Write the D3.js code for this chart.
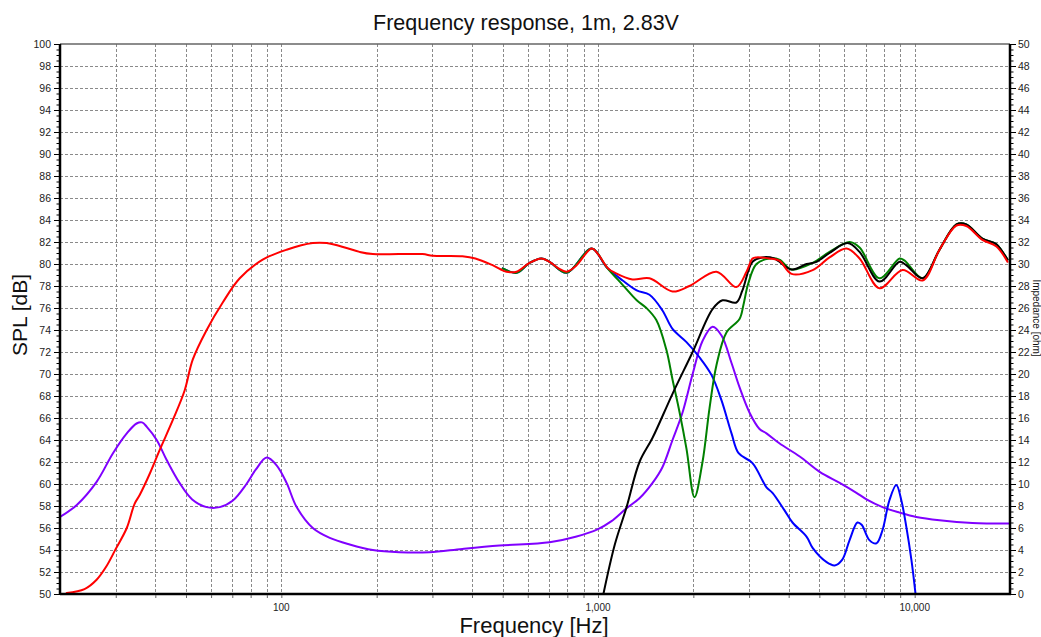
<!DOCTYPE html>
<html>
<head>
<meta charset="utf-8">
<script src="https://cdn.jsdelivr.net/npm/d3@7"></script>
<style>
  html, body { margin: 0; padding: 0; background: #fff; }
  svg { display: block; font-family: "Liberation Sans", Arial, sans-serif; }
</style>
</head>
<body>
<svg id="chart" width="1041" height="637"></svg>
<script>
// ---- data (frequency in Hz, value) ----
const splTicks = d3.range(50, 101, 2);
const ohmTicks = d3.range(0, 51, 2);
const freqLabels = [[100, "100"], [1000, "1,000"], [10000, "10,000"]];

// summed response (red)
const totalSpl = [[21,50.1],[23.9,50.45],[26.1,51.3],[28,52.5],[30,54.1],[32.5,56.0],[34.4,58.2],[35.7,59.0],[38.5,61.0],[41.3,63.1],[45.4,65.8],[49.5,68.5],[52.5,71.3],[58.1,74.0],[65.3,76.5],[73.9,78.7],[87.3,80.4],[103.9,81.3],[125.7,81.9],[139,81.9],[160.7,81.45],[176.6,81.1],[194.5,80.9],[279,80.9],[300.6,80.75],[373,80.7],[410,80.5],[464.5,79.9],[514,79.3],[553,79.3],[608,80.1],[663,80.5],[703,80.2],[750,79.6],[796,79.3],[850,79.8],[955,81.4],[1000,80.9],[1076,79.6],[1132,79.2],[1285,78.6],[1454,78.7],[1719,77.5],[1944,78.0],[2366,79.3],[2735,77.9],[2944,79.3],[3075,80.5],[3165,80.6],[3478,80.5],[3738,80.3],[4085,79.1],[4761,79.45],[5384,80.6],[6093,81.4],[6699,80.5],[7746,77.8],[9158,79.45],[10596,78.5],[11980,81.3],[13550,83.5],[14560,83.45],[16360,82.2],[18120,81.6],[19640,80.2]];

// tweeter (black)
const tweeterSpl = [[1040,50],[1130,54.5],[1231,57.9],[1352,62.0],[1487,64.2],[1719,68.2],[1990,72.0],[2300,75.9],[2473,76.7],[2735,76.5],[2858,77.6],[3075,80.2],[3300,80.6],[3600,80.5],[4085,79.5],[4560,80.0],[4900,80.2],[5384,81.0],[6140,81.9],[6699,81.1],[7746,78.4],[8960,80.2],[9400,79.9],[10596,78.7],[11980,81.3],[13550,83.6],[14560,83.6],[16360,82.3],[18120,81.8],[19640,80.4]];

// reversed polarity sum (green)
const reverseSpl = [[500,79.6],[553,79.2],[608,80.1],[663,80.5],[703,80.2],[796,79.2],[955,81.4],[1065,79.7],[1196,78.1],[1325,76.7],[1422,76.0],[1528,74.9],[1644,72.2],[1719,69.5],[1810,66.5],[1903,63.2],[2017,58.8],[2138,62.0],[2250,66.9],[2366,70.8],[2547,73.8],[2798,75.0],[2880,76.3],[2980,78.2],[3165,80.0],[3478,80.5],[3738,80.4],[4085,79.5],[4761,80.1],[5384,81.1],[6230,82.0],[6699,81.5],[7746,78.7],[8960,80.5],[9300,80.3],[10596,78.7],[11980,81.3],[13550,83.6],[14560,83.6],[16360,82.3],[18120,81.8],[19640,80.4]];

// woofer (blue)
const wooferSpl = [[500,79.6],[553,79.2],[608,80.1],[663,80.5],[703,80.2],[796,79.2],[955,81.4],[1065,79.7],[1196,78.5],[1325,77.6],[1454,77.2],[1596,75.8],[1719,74.1],[1903,72.9],[2094,71.5],[2284,69.9],[2455,67.6],[2640,64.6],[2780,62.8],[3075,61.9],[3404,59.7],[3556,59.2],[3882,57.6],[4113,56.5],[4560,55.2],[4761,54.2],[5272,52.9],[5590,52.6],[5900,53.1],[6230,54.9],[6596,56.5],[6800,56.3],[7196,54.9],[7571,54.6],[7912,55.8],[8318,58.5],[8750,59.9],[9078,58.5],[9411,56.1],[9766,53.1],[10064,50]];

// impedance (purple), ohm
const impedance = [[20,7.0],[22.6,8.1],[26.1,10.2],[29.4,12.8],[32.5,14.6],[34.9,15.5],[36.3,15.6],[37.6,15.2],[40.4,14.0],[43.4,12.2],[47.7,10.1],[52.3,8.6],[58.1,7.9],[63.9,7.9],[70.3,8.5],[77.6,10.0],[83,11.3],[89.9,12.4],[96.6,11.7],[103.9,10.1],[111.8,7.9],[125.7,6.0],[142.2,5.1],[164.4,4.5],[194.5,4.0],[236.1,3.8],[293.8,3.8],[373,4.1],[488.8,4.4],[703,4.7],[850,5.2],[1000,5.9],[1100,6.6],[1231,7.8],[1352,8.7],[1487,10.1],[1596,11.5],[1719,14.0],[1849,16.5],[1990,20.0],[2138,23.0],[2300,24.3],[2455,23.5],[2640,21.0],[2798,18.8],[3008,16.5],[3236,15.0],[3404,14.6],[3738,13.7],[4336,12.5],[5012,11.1],[5797,10.1],[6547,9.2],[7046,8.6],[7912,7.9],[8960,7.4],[10120,7.0],[11980,6.7],[15210,6.45],[20000,6.4]];

// ---- layout ----
const L = 60, R = 1010, T = 44, B = 594;
const svg = d3.select("#chart");
const x = d3.scaleLog().domain([20, 20000]).range([L, R]);
const y = d3.scaleLinear().domain([50, 100]).range([B, T]);
const yR = d3.scaleLinear().domain([0, 50]).range([B, T]);

// grid frequencies
const gridFreqs = [];
[10, 100, 1000, 10000].forEach(d => { for (let k = 1; k <= 9; k++) { const f = d * k; if (f > 20 && f < 20000) gridFreqs.push(f); } });

const grid = svg.append("g").attr("stroke", "#8a8a8a").attr("stroke-width", 1).attr("stroke-dasharray", "3,2");
grid.selectAll("line.v").data(gridFreqs).join("line")
  .attr("x1", d => Math.round(x(d)) + 0.5).attr("x2", d => Math.round(x(d)) + 0.5)
  .attr("y1", T).attr("y2", B);
grid.selectAll("line.h").data(splTicks.filter(v => v > 50 && v < 100)).join("line")
  .attr("x1", L).attr("x2", R)
  .attr("y1", d => Math.round(y(d)) + 0.5).attr("y2", d => Math.round(y(d)) + 0.5);

// clip
svg.append("clipPath").attr("id", "plotclip").append("rect")
  .attr("x", L).attr("y", T).attr("width", R - L).attr("height", B - T);

const lineSpl = d3.line().x(d => x(d[0])).y(d => y(d[1])).curve(d3.curveCatmullRom.alpha(0.5));
const lineOhm = d3.line().x(d => x(d[0])).y(d => yR(d[1])).curve(d3.curveCatmullRom.alpha(0.5));

const plot = svg.append("g").attr("clip-path", "url(#plotclip)").attr("fill", "none")
  .attr("stroke-width", 2).attr("stroke-linejoin", "round").attr("stroke-linecap", "round");
plot.append("path").datum(impedance).attr("d", lineOhm).attr("stroke", "#8000ff");
plot.append("path").datum(wooferSpl).attr("d", lineSpl).attr("stroke", "#0000ff");
plot.append("path").datum(reverseSpl).attr("d", lineSpl).attr("stroke", "#008000");
plot.append("path").datum(tweeterSpl).attr("d", lineSpl).attr("stroke", "#000000");
plot.append("path").datum(totalSpl).attr("d", lineSpl).attr("stroke", "#ff0000");

// frame
svg.append("line").attr("x1", L).attr("x2", R).attr("y1", T).attr("y2", T).attr("stroke", "#666").attr("stroke-width", 1.5);
svg.append("line").attr("x1", L).attr("x2", R + 1).attr("y1", B).attr("y2", B).attr("stroke", "#000").attr("stroke-width", 2.5);
svg.append("line").attr("x1", L).attr("x2", L).attr("y1", T).attr("y2", B + 1).attr("stroke", "#000").attr("stroke-width", 2.5);
svg.append("line").attr("x1", R).attr("x2", R).attr("y1", T).attr("y2", B + 1).attr("stroke", "#000").attr("stroke-width", 2.5);

// left axis
const leftAxis = d3.axisLeft(y).tickValues(splTicks).tickSize(5).tickPadding(3).tickFormat(d3.format("d"));
const gl = svg.append("g").attr("transform", `translate(${L - 1},0)`).call(leftAxis);
gl.select(".domain").remove();
gl.selectAll("text").attr("font-size", 10.5).attr("fill", "#222").attr("font-family", "'Liberation Sans', Arial, sans-serif");
gl.selectAll("line").attr("stroke", "#000");
const leftMinor = d3.axisLeft(y).tickValues(d3.range(50, 100.01, 0.5)).tickSize(2.5).tickFormat("");
const glm = svg.append("g").attr("transform", `translate(${L - 1},0)`).call(leftMinor);
glm.select(".domain").remove();

// right axis
const rightAxis = d3.axisRight(yR).tickValues(ohmTicks).tickSize(5).tickPadding(2).tickFormat(d3.format("d"));
const gr = svg.append("g").attr("transform", `translate(${R + 1},0)`).call(rightAxis);
gr.select(".domain").remove();
gr.selectAll("text").attr("font-size", 10.5).attr("fill", "#222").attr("font-family", "'Liberation Sans', Arial, sans-serif");
const rightMinor = d3.axisRight(yR).tickValues(d3.range(0, 50.01, 0.5)).tickSize(2.5).tickFormat("");
const grm = svg.append("g").attr("transform", `translate(${R + 1},0)`).call(rightMinor);
grm.select(".domain").remove();

// bottom axis
const bottomAxis = d3.axisBottom(x).tickValues(gridFreqs).tickSize(3).tickFormat("");
const gb = svg.append("g").attr("transform", `translate(0,${B + 1})`).call(bottomAxis);
gb.select(".domain").remove();
gb.selectAll("line").attr("stroke", "#666");
svg.append("g").selectAll("text").data(freqLabels).join("text")
  .attr("x", d => x(d[0])).attr("y", 611)
  .attr("text-anchor", "middle").attr("font-size", 10).attr("fill", "#222")
  .text(d => d[1]);

// titles
svg.append("text").attr("x", 526).attr("y", 30).attr("text-anchor", "middle")
  .attr("font-size", 21.5).attr("fill", "#111").text("Frequency response, 1m, 2.83V");
svg.append("text").attr("x", 534).attr("y", 633).attr("text-anchor", "middle")
  .attr("font-size", 22).attr("fill", "#111").text("Frequency [Hz]");
svg.append("text").attr("transform", "translate(27,315) rotate(-90)").attr("text-anchor", "middle")
  .attr("font-size", 21).attr("fill", "#111").text("SPL [dB]");
svg.append("text").attr("transform", "translate(1033,318) rotate(90)").attr("text-anchor", "middle")
  .attr("font-size", 10).attr("fill", "#111").text("Impedance [ohm]");
</script>
</body>
</html>
